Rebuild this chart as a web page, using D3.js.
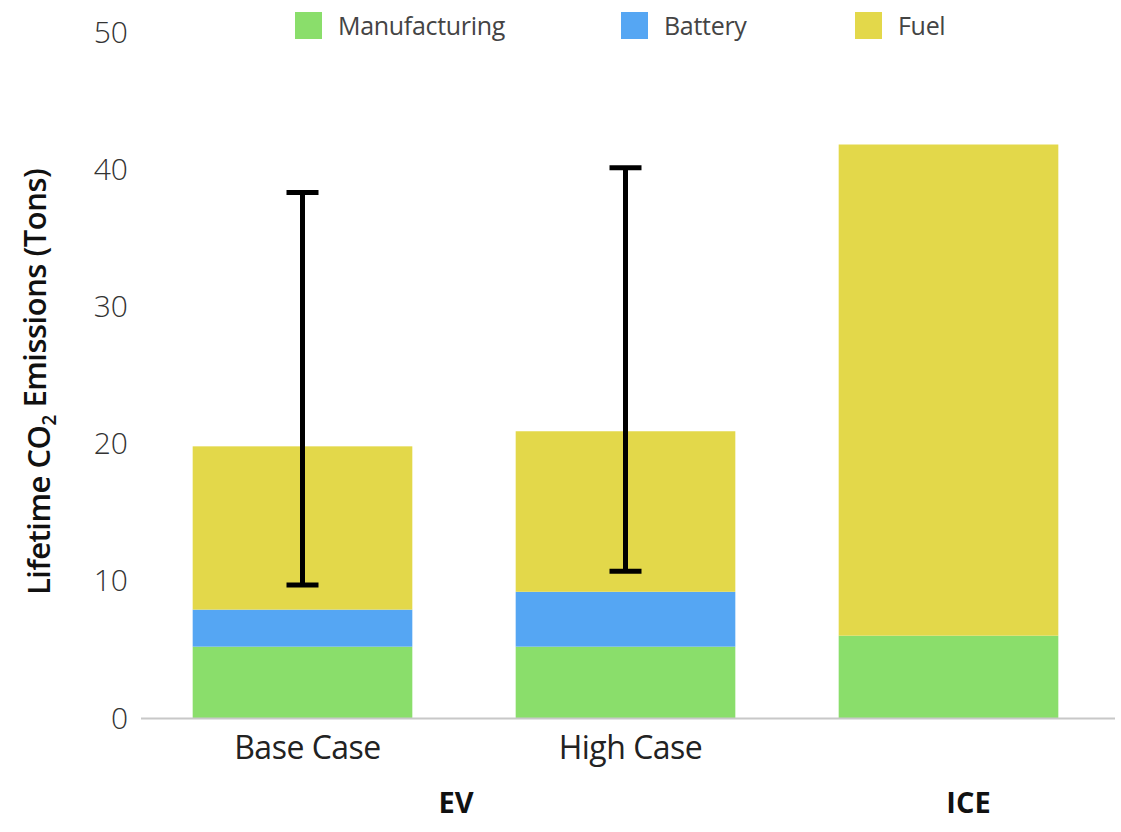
<!DOCTYPE html>
<html>
<head>
<meta charset="utf-8">
<script src="https://cdn.jsdelivr.net/npm/d3@7"></script>
<style>
	body { margin: 0; background: #fff; }
	svg text { font-family: "Open Sans", "Noto Sans", sans-serif; }
</style>
</head>
<body>
<svg id="chart" width="1121" height="832"></svg>
<script>
// data
var cases = ['Base Case', 'High Case', 'ICE'];
var groups = [
	{label : 'EV', cases : ['Base Case', 'High Case']},
	{label : 'ICE', cases : ['ICE']}
];
var series = ['Manufacturing', 'Battery', 'Fuel'];
var manufacturing = [5.2, 5.2, 6.0];
var battery = [2.7, 4.0, 0];
var fuel = [11.9, 11.7, 35.8];
var errLow = [9.7, 10.7, null];
var errHigh = [38.3, 40.1, null];
var yTicks = [0, 10, 20, 30, 40, 50];

var colors = {
	Manufacturing : '#8ade6b',
	Battery : '#55a6f3',
	Fuel : '#e3d84a'
};

var svg = d3.select('#chart');

var x = d3.scaleBand()
	.domain(cases)
	.range([141, 1110])
	.paddingInner(0.32)
	.paddingOuter(0.16);

var y = d3.scaleLinear()
	.domain([0, 50])
	.range([718, 32]);

// stacked rows
var rows = cases.map(function(c, i){
	return {case : c, Manufacturing : manufacturing[i], Battery : battery[i], Fuel : fuel[i]};
});
var stacked = d3.stack().keys(series)(rows);

svg.append('g')
	.selectAll('g')
	.data(stacked)
	.enter()
	.append('g')
	.attr('fill', function(d){ return colors[d.key]; })
	.selectAll('rect')
	.data(function(d){ return d; })
	.enter()
	.append('rect')
	.attr('x', function(d){ return x(d.data.case); })
	.attr('width', x.bandwidth())
	.attr('y', function(d){ return y(d[1]); })
	.attr('height', function(d){ return y(d[0]) - y(d[1]); });

// baseline
svg.append('line')
	.attr('x1', x.range()[0])
	.attr('x2', x.range()[1] + 5)
	.attr('y1', y(0) + 0.5)
	.attr('y2', y(0) + 0.5)
	.attr('stroke', '#c8c8c8')
	.attr('stroke-width', 2);

// y ticks
svg.append('g')
	.selectAll('text')
	.data(yTicks)
	.enter()
	.append('text')
	.attr('x', 128)
	.attr('y', function(d){ return y(d); })
	.attr('dy', '0.35em')
	.attr('text-anchor', 'end')
	.attr('fill', '#333')
	.style('font-size', '30px')
	.style('font-weight', 300)
	.text(function(d){ return d; });

// y title
var yTitle = svg.append('text')
	.attr('transform', 'translate(50,' + y(24.5) + ') rotate(-90)')
	.attr('text-anchor', 'middle')
	.attr('fill', '#111')
	.style('font-size', '31px')
	.style('font-weight', 600)
	.style('letter-spacing', '-0.5px');
yTitle.append('tspan').text('Lifetime CO');
yTitle.append('tspan').attr('dy', '0.3em').style('font-size', '19px').text('2');
yTitle.append('tspan').attr('dy', '-0.3em').text(' Emissions (Tons)');

// error bars
var errData = cases.map(function(c, i){
	return {case : c, lo : errLow[i], hi : errHigh[i]};
}).filter(function(d){ return d.lo !== null; });

var err = svg.append('g')
	.attr('stroke', '#000')
	.attr('stroke-width', 5)
	.selectAll('g')
	.data(errData)
	.enter()
	.append('g')
	.attr('transform', function(d){ return 'translate(' + (x(d.case) + x.bandwidth() / 2) + ',0)'; });

err.append('line')
	.attr('y1', function(d){ return y(d.lo); })
	.attr('y2', function(d){ return y(d.hi); });
err.append('line')
	.attr('x1', -16).attr('x2', 16)
	.attr('y1', function(d){ return y(d.hi); })
	.attr('y2', function(d){ return y(d.hi); });
err.append('line')
	.attr('x1', -16).attr('x2', 16)
	.attr('y1', function(d){ return y(d.lo); })
	.attr('y2', function(d){ return y(d.lo); });

// category labels
svg.append('g')
	.selectAll('text')
	.data(cases.filter(function(c){ return c !== 'ICE'; }))
	.enter()
	.append('text')
	.attr('x', function(d){ return x(d) + x.bandwidth() / 2 + 5; })
	.attr('y', 759)
	.attr('text-anchor', 'middle')
	.attr('fill', '#222')
	.style('font-size', '32px')
	.style('font-weight', 400)
	.style('letter-spacing', '-0.5px')
	.text(function(d){ return d; });

// group labels
svg.append('g')
	.selectAll('text')
	.data(groups)
	.enter()
	.append('text')
	.attr('x', function(d){
		var first = d.cases[0], last = d.cases[d.cases.length - 1];
		return (x(first) + x(last) + x.bandwidth()) / 2 + (d.label === 'ICE' ? 20 : -8);
	})
	.attr('y', 813)
	.attr('text-anchor', 'middle')
	.attr('fill', '#111')
	.style('font-size', '29px')
	.style('font-weight', 700)
	.text(function(d){ return d.label; });

// legend
var legendX = [295, 621, 855];
var legend = svg.append('g')
	.selectAll('g')
	.data(series)
	.enter()
	.append('g')
	.attr('transform', function(d, i){ return 'translate(' + legendX[i] + ',12)'; });

legend.append('rect')
	.attr('width', 27)
	.attr('height', 27)
	.attr('fill', function(d){ return colors[d]; });

legend.append('text')
	.attr('x', 43)
	.attr('y', 14)
	.attr('dy', '0.35em')
	.attr('fill', '#444')
	.style('font-size', '25px')
	.style('letter-spacing', '-0.3px')
	.text(function(d){ return d; });
</script>
</body>
</html>
